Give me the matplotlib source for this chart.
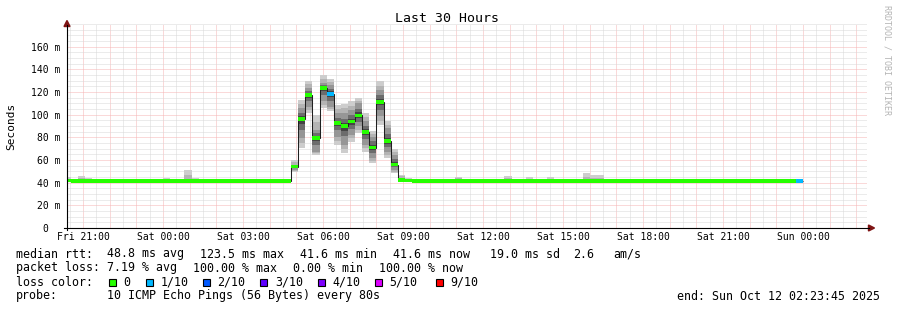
import pandas as pd
import matplotlib
matplotlib.use("Agg")
import matplotlib.pyplot as plt
import matplotlib.dates as mdates
from matplotlib.patches import Rectangle, Polygon
from matplotlib.lines import Line2D
from matplotlib.ticker import FuncFormatter, MultipleLocator
from matplotlib.transforms import ScaledTranslation

W, H = 897, 310
MONO = "DejaVu Sans Mono"

# time window of the graph, 16 minute consolidated bins
start = pd.Timestamp("2025-10-10 20:23:45")
end = pd.Timestamp("2025-10-12 02:23:45")
first_edge = pd.Timestamp("2025-10-10 20:32:00")
bin_minutes = 16
n_bins = 104

# median rtt per bin (ms)
median_ms = [
    41.8, 41.2, 41.7, 41.6, 41.6, 41.6, 41.6, 41.6, 41.6, 41.6,
    41.6, 41.6, 41.6, 41.6, 41.6, 41.6, 41.6, 41.6, 41.6, 41.6,
    41.3, 41.3, 41.6, 41.6, 41.6, 41.6, 41.6, 41.6, 41.6, 41.6,
    41.6, 41.6,
    54.2, 96.1, 117.6, 79.6, 123.5, 118.5, 92.6, 90.2, 94.0, 99.3,
    84.9, 71.0, 111.4, 76.6, 56.0, 42.1,
    41.8, 41.6, 41.4, 41.6, 41.6, 41.6, 41.6, 41.4, 41.6, 41.6,
    41.6, 41.6, 41.6, 41.6, 41.6, 41.6, 41.6, 41.6, 41.6, 41.6,
    41.6, 41.6, 41.6, 41.6, 41.6, 41.6, 41.6, 41.6, 41.6, 41.6,
    41.6, 41.6, 41.6, 41.6, 41.6, 41.6, 41.6, 41.6, 41.6, 41.6,
    41.6, 41.6, 41.6, 41.6, 41.6, 41.6, 41.6, 41.6, 41.6, 41.6,
    41.6, 41.6, 41.6, 41.6, 41.6, 41.6,
]

# lost pings (out of 10) where not zero
lost_pings = {37: 1, 103: 1}

# smoke per bin: (lowest ping, core low, core high, highest ping)
smoke = {
    0: (41.0, 41.2, 42.0, 44.8),
    2: (41.0, 41.3, 42.2, 46.0),
    3: (41.0, 41.2, 42.0, 44.0),
    14: (41.0, 41.2, 42.0, 44.2),
    17: (41.0, 41.2, 42.0, 51.3),
    18: (41.0, 41.2, 42.0, 43.8),
    19: (41.0, 41.2, 42.0, 43.3),
    22: (41.0, 41.2, 42.0, 43.0),
    32: (49.8, 51.3, 55.7, 60.0),
    33: (70.4, 79.3, 105.8, 112.6),
    34: (101.4, 107.2, 123.5, 130.0),
    35: (64.5, 67.5, 86.6, 99.9),
    36: (105.8, 111.7, 127.9, 135.3),
    37: (102.8, 107.2, 126.4, 131.5),
    38: (73.4, 80.7, 101.4, 108.8),
    39: (66.0, 73.4, 101.4, 109.7),
    40: (76.3, 82.2, 104.3, 111.7),
    41: (83.7, 89.6, 110.2, 114.7),
    42: (67.5, 73.4, 94.0, 101.4),
    43: (57.2, 61.6, 80.7, 85.2),
    44: (91.0, 98.4, 122.0, 129.4),
    45: (61.6, 67.5, 88.1, 94.0),
    46: (48.4, 51.3, 64.5, 69.6),
    47: (40.5, 41.2, 44.0, 46.9),
    48: (41.0, 41.2, 42.0, 44.0),
    51: (41.0, 41.2, 42.0, 43.0),
    55: (41.0, 41.2, 42.0, 45.4),
    59: (41.0, 41.2, 42.0, 43.0),
    60: (41.0, 41.2, 42.0, 43.0),
    62: (41.0, 41.2, 42.0, 46.0),
    65: (41.0, 41.2, 42.0, 44.8),
    68: (41.0, 41.2, 42.0, 44.8),
    73: (41.0, 41.2, 42.0, 48.3),
    74: (41.0, 41.2, 42.0, 47.1),
    75: (41.0, 41.2, 42.0, 47.1),
}

loss_labels = ["0", "1/10", "2/10", "3/10", "4/10", "5/10", "9/10"]
loss_colors = ["#26ff00", "#00b8ff", "#0059ff", "#5e00ff", "#7e00ff", "#dd00ff", "#ff0000"]
loss_levels = [0, 1, 2, 3, 4, 5, 9]

y_ticks = [0, 20, 40, 60, 80, 100, 120, 140, 160]
y_tick_labels = ["0", "20 m", "40 m", "60 m", "80 m", "100 m", "120 m", "140 m", "160 m"]

rtt_row = [("median rtt:", 16), ("48.8 ms avg", 107.3), ("123.5 ms max", 200), ("41.6 ms min", 300),
           ("41.6 ms now", 393.3), ("19.0 ms sd", 490), ("2.6", 572.7), ("am/s", 613.3)]
loss_row = [("packet loss:", 16), ("7.19 % avg", 107.3), ("100.00 % max", 193.3),
            ("0.00 % min", 293.3), ("100.00 % now", 379.3)]
probe_text = "10 ICMP Echo Pings (56 Bytes) every 80s"
end_text = "end: Sun Oct 12 02:23:45 2025"


def fx(px):
    return px / W


def fy(py):
    return 1 - py / H


edges = [start] + [first_edge + pd.Timedelta(minutes=bin_minutes * k) for k in range(n_bins)]
edges = mdates.date2num(edges)
lefts = edges[:-1]
widths = edges[1:] - edges[:-1]

fig = plt.figure(figsize=(W / 100, H / 100), dpi=100)
fig.patch.set_facecolor("white")
ax = fig.add_axes([fx(67), fy(228), 800 / W, 204 / H])
ax.set_xlim(mdates.date2num(start), mdates.date2num(end))
ax.set_ylim(0, 180)
for s in ax.spines.values():
    s.set_visible(False)

# grid like rrdtool: grey minor, red major, dotted
ax.xaxis.set_major_locator(mdates.HourLocator(interval=1))
ax.xaxis.set_minor_locator(mdates.MinuteLocator(byminute=[30]))
ax.xaxis.set_major_formatter(FuncFormatter(
    lambda v, p: mdates.num2date(v).strftime("%a %H:%M") if mdates.num2date(v).hour % 3 == 0 else ""))
ax.set_yticks(y_ticks)
ax.set_yticklabels(y_tick_labels)
ax.yaxis.set_minor_locator(MultipleLocator(5))
ax.grid(which="minor", color="#d8d8d8", linestyle=(0, (1, 1)), lw=0.72)
ax.grid(which="major", color="#f7b4b4", linestyle=(0, (1, 1)), lw=0.72)
ax.set_axisbelow(True)
ax.tick_params(which="both", length=0)
ax.tick_params(axis="x", pad=3, labelsize=7)
ax.tick_params(axis="y", pad=5, labelsize=7)
for lbl in ax.get_xticklabels() + ax.get_yticklabels():
    lbl.set_family(MONO)
# "0" sits where the number part of the other labels is
zero = ax.get_yticklabels()[0]
zero.set_transform(zero.get_transform() + ScaledTranslation(-0.12, 0, fig.dpi_scale_trans))

# smoke
for b, (lo, clo, chi, hi) in smoke.items():
    m = median_ms[b]
    layers = [
        (lo, hi, "#cdcdcd"),
        ((lo + clo) / 2, (hi + chi) / 2, "#b4b4b4"),
        (clo, chi, "#969696"),
        (m - 0.55 * (m - clo), m + 0.55 * (chi - m), "#6c6c6c"),
        (m - 0.25 * (m - clo), m + 0.25 * (chi - m), "#444444"),
    ]
    for a, z, c in layers:
        ax.bar(lefts[b], z - a, bottom=a, width=widths[b], align="edge", color=c, lw=0, zorder=2)

# median line + loss coloured band
ax.stairs(median_ms, edges, baseline=None, color="#202020", lw=0.75, zorder=3)
band = 1.6
band_colors = [loss_colors[loss_levels.index(lost_pings.get(i, 0))] for i in range(n_bins)]
ax.bar(lefts, [2 * band] * n_bins, bottom=[m - band for m in median_ms], width=widths,
       align="edge", color=band_colors, lw=0, zorder=4)

# axes with arrows
fig.add_artist(Line2D([fx(67), fx(67)], [fy(230), fy(25)], color="black", lw=0.8))
fig.add_artist(Line2D([fx(64), fx(869)], [fy(228), fy(228)], color="black", lw=0.8))
fig.add_artist(Polygon([[fx(64), fy(26.5)], [fx(70), fy(26.5)], [fx(67), fy(20.5)]],
                       closed=True, color="#7f1414", transform=fig.transFigure))
fig.add_artist(Polygon([[fx(868.5), fy(225)], [fx(868.5), fy(231)], [fx(874.5), fy(228)]],
                       closed=True, color="#7f1414", transform=fig.transFigure))

fig.text(fx(447), fy(19), "Last 30 Hours", ha="center", va="center", fontsize=9.5, family=MONO)
fig.text(fx(11), fy(126), "Seconds", rotation=90, ha="center", va="center", fontsize=8, family=MONO)
fig.text(fx(887), fy(60), "RRDTOOL / TOBI OETIKER", rotation=270, ha="center", va="center",
         fontsize=6, family=MONO, color="#b4b4b4")

# legend block
for s, x in rtt_row:
    fig.text(fx(x), fy(254), s, va="center", fontsize=8.4, family=MONO)
for s, x in loss_row:
    fig.text(fx(x), fy(268), s, va="center", fontsize=8.4, family=MONO)
fig.text(fx(16), fy(282), "loss color:", va="center", fontsize=8.4, family=MONO)
box_x = [108.7, 145.7, 203, 260.3, 317.7, 375, 435.7]
for lab, col, x in zip(loss_labels, loss_colors, box_x):
    fig.add_artist(Rectangle((fx(x), fy(285.5)), 7 / W, 7 / H, facecolor=col, edgecolor="black",
                             lw=0.8, transform=fig.transFigure))
    fig.text(fx(x + 14.5), fy(282), lab, va="center", fontsize=8.4, family=MONO)
fig.text(fx(16), fy(296), "probe:", va="center", fontsize=8.4, family=MONO)
fig.text(fx(107.3), fy(296), probe_text, va="center", fontsize=8.4, family=MONO)
fig.text(fx(880), fy(296), end_text, ha="right", va="center", fontsize=8.4, family=MONO)

fig.savefig("out.png", dpi=100)
